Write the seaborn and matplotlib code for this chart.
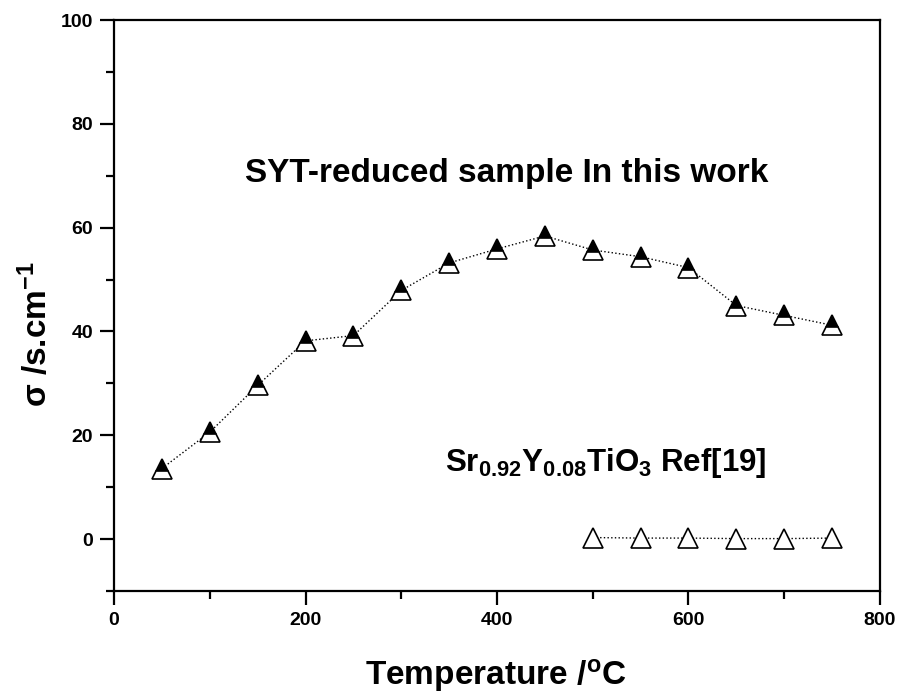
import matplotlib
matplotlib.use("Agg")
import matplotlib.pyplot as plt
import seaborn as sns
import pandas as pd
from matplotlib.ticker import MultipleLocator

sns.set_theme(style="white")
plt.rcParams['font.family'] = ['Liberation Sans', 'DejaVu Sans']
plt.rcParams['text.color'] = 'black'
plt.rcParams['axes.labelcolor'] = 'black'
plt.rcParams['xtick.color'] = 'black'
plt.rcParams['ytick.color'] = 'black'

# Data
temp_this = [50, 100, 150, 200, 250, 300, 350, 400, 450, 500, 550, 600, 650, 700, 750]
sigma_this = [13.6, 20.6, 29.6, 38.2, 39.2, 47.9, 53.2, 55.9, 58.4, 55.7, 54.4, 52.3, 45.0, 43.1, 41.2]
temp_ref = [500, 550, 600, 650, 700, 750]
sigma_ref = [0.3, 0.2, 0.2, 0.1, 0.1, 0.2]

df_this = pd.DataFrame({"T": temp_this, "s": sigma_this})
df_ref = pd.DataFrame({"T": temp_ref, "s": sigma_ref})

fig = plt.figure(figsize=(9.02, 6.95), dpi=100)
ax = fig.add_axes([0.1264, 0.1496, 0.8492, 0.8216])

sns.lineplot(data=df_this, x="T", y="s", ax=ax, color="black", linestyle=":", linewidth=1.0,
             marker="^", markersize=15, fillstyle="top", markerfacecolor="black",
             markerfacecoloralt="white", markeredgecolor="black", markeredgewidth=1.2,
             sort=False, estimator=None)
sns.lineplot(data=df_ref, x="T", y="s", ax=ax, color="black", linestyle=":", linewidth=1.0,
             marker="^", markersize=15, markerfacecolor="white", markeredgecolor="black",
             markeredgewidth=1.2, sort=False, estimator=None)

ax.set_xlim(0, 800)
ax.set_ylim(-10, 100)
ax.xaxis.set_major_locator(MultipleLocator(200))
ax.xaxis.set_minor_locator(MultipleLocator(100))
ax.yaxis.set_major_locator(MultipleLocator(20))
ax.yaxis.set_minor_locator(MultipleLocator(10))

for sp in ax.spines.values():
    sp.set_visible(True)
    sp.set_color("black")
    sp.set_linewidth(1.6)

ax.tick_params(axis="both", which="major", direction="out", length=10, width=1.6,
               labelsize=14, colors="black", bottom=True, left=True, pad=5)
ax.tick_params(axis="both", which="minor", direction="out", length=6, width=1.6,
               bottom=True, left=True)
for lab in ax.get_xticklabels() + ax.get_yticklabels():
    lab.set_fontweight("bold")

ax.set_xlabel("Temperature /$\\mathregular{^{o}}$C", fontsize=24, fontweight="bold")
ax.set_ylabel("σ /s.cm$\\mathregular{^{-1}}$", fontsize=24, fontweight="bold")
ax.xaxis.set_label_coords(0.498, -0.1646)
ax.xaxis.label.set_va("baseline")
ax.yaxis.set_label_coords(-0.1018, 0.450)
ylab = ax.yaxis.label
ylab.set_rotation_mode("default")
ylab.set_va("center")
ylab.set_ha("center")

ax.text(410, 70.5, "SYT-reduced sample In this work", fontsize=24, fontweight="bold",
        ha="center", va="center")
ax.text(514, 13.1, "Sr$\\mathregular{_{0.92}}$Y$\\mathregular{_{0.08}}$TiO$\\mathregular{_{3}}$ Ref[19]",
        fontsize=22.5, fontweight="bold", ha="center", va="baseline")

fig.savefig("out.png", dpi=100)
